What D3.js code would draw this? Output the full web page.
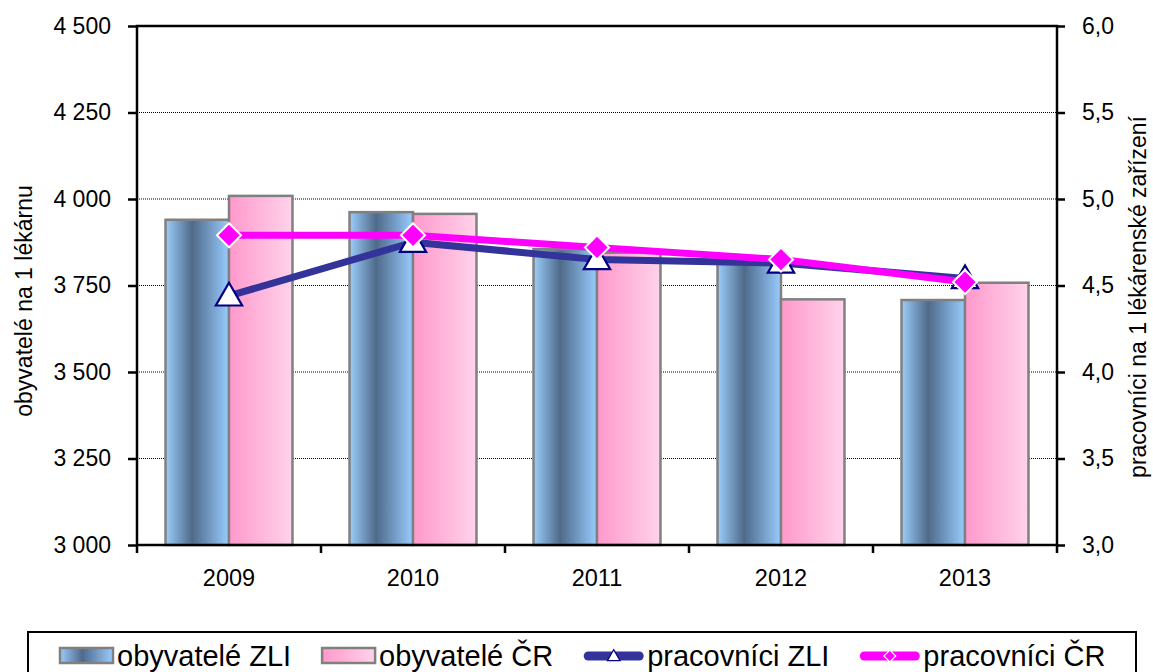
<!DOCTYPE html>
<html lang="cs">
<head>
<meta charset="UTF-8">
<title>Lékárny</title>
<script src="https://d3js.org/d3.v7.min.js"></script>
<style>
  body { margin: 0; background: #fff; }
  svg { display: block; font-family: "Liberation Sans", Arial, sans-serif; }
  .grid line { stroke: #000; stroke-width: 1; stroke-dasharray: 1,1; }
</style>
</head>
<body>
<svg id="chart" width="1153" height="672"></svg>
<script>
  // data
  const years = ['2009', '2010', '2011', '2012', '2013'];
  const obyvZLI = [3940, 3962, 3855, 3815, 3708];
  const obyvCR = [4009, 3957, 3845, 3710, 3758];
  const pracZLI = [4.44, 4.75, 4.65, 4.63, 4.54];
  const pracCR = [4.79, 4.79, 4.72, 4.65, 4.52];
  const leftTicks = [3000, 3250, 3500, 3750, 4000, 4250, 4500];
  const rightTicks = [3.0, 3.5, 4.0, 4.5, 5.0, 5.5, 6.0];

  const svg = d3.select('#chart');
  const x0 = 137, x1 = 1057, yTop = 26, yBot = 545;

  const x = d3.scaleBand().domain(years).range([x0, x1]).paddingInner(0.31).paddingOuter(0.155);
  const xs = d3.scaleBand().domain(['zli', 'cr']).range([0, x.bandwidth()]);
  const yL = d3.scaleLinear().domain([3000, 4500]).range([yBot, yTop]);
  const yR = d3.scaleLinear().domain([3, 6]).range([yBot, yTop]);

  // gradients
  const defs = svg.append('defs');
  const gBlue = defs.append('linearGradient').attr('id', 'gBlue');
  gBlue.append('stop').attr('offset', '0%').attr('stop-color', '#9ccdfa');
  gBlue.append('stop').attr('offset', '42%').attr('stop-color', '#4f6a8a');
  gBlue.append('stop').attr('offset', '100%').attr('stop-color', '#99ccff');
  const gPink = defs.append('linearGradient').attr('id', 'gPink');
  gPink.append('stop').attr('offset', '0%').attr('stop-color', '#ff99cc');
  gPink.append('stop').attr('offset', '100%').attr('stop-color', '#ffd3ea');

  // gridlines
  svg.append('g').attr('class', 'grid')
    .selectAll('line').data(leftTicks.slice(1, -1)).join('line')
    .attr('x1', x0).attr('x2', x1)
    .attr('y1', d => yL(d)).attr('y2', d => yL(d));

  // bars
  const groups = svg.append('g').selectAll('g').data(years).join('g')
    .attr('transform', d => `translate(${x(d)},0)`);
  groups.append('rect')
    .attr('x', xs('zli')).attr('width', xs.bandwidth())
    .attr('y', (d, i) => yL(obyvZLI[i])).attr('height', (d, i) => yBot - yL(obyvZLI[i]))
    .attr('fill', 'url(#gBlue)').attr('stroke', '#808080').attr('stroke-width', 2.5);
  groups.append('rect')
    .attr('x', xs('cr')).attr('width', xs.bandwidth())
    .attr('y', (d, i) => yL(obyvCR[i])).attr('height', (d, i) => yBot - yL(obyvCR[i]))
    .attr('fill', 'url(#gPink)').attr('stroke', '#808080').attr('stroke-width', 2.5);

  // axes
  const axisL = d3.axisLeft(yL).tickValues(leftTicks).tickSize(9).tickPadding(17)
    .tickFormat(d => d3.format(',')(d).replace(',', ' '));
  const axisR = d3.axisRight(yR).tickValues(rightTicks).tickSize(8).tickPadding(17)
    .tickFormat(d => d3.format('.1f')(d).replace('.', ','));
  const axisB = d3.axisBottom(x).tickSize(0).tickPadding(24);

  const gL = svg.append('g').attr('transform', `translate(${x0},0)`).call(axisL);
  const gR = svg.append('g').attr('transform', `translate(${x1},0)`).call(axisR);
  const gB = svg.append('g').attr('transform', `translate(0,${yBot})`).call(axisB);
  [gL, gR, gB].forEach(g => {
    g.selectAll('.domain').remove();
    g.selectAll('.tick line').attr('stroke', '#000').attr('stroke-width', 2.5);
    g.selectAll('text').attr('fill', '#000').style('font-size', '23px');
  });
  gB.selectAll('text').attr('dy', '0.71em').style('font-size', '23.5px');

  // category boundary ticks
  const bounds = years.map(d => x(d) - x.step() * 0.155).concat([x1]);
  svg.append('g').selectAll('line').data(bounds).join('line')
    .attr('x1', d => d).attr('x2', d => d).attr('y1', yBot).attr('y2', yBot + 8)
    .attr('stroke', '#000').attr('stroke-width', 2.5);

  // frame
  svg.append('rect').attr('x', x0).attr('y', yTop).attr('width', x1 - x0).attr('height', yBot - yTop)
    .attr('fill', 'none').attr('stroke', '#000').attr('stroke-width', 2.5);

  // lines
  const cx = d => x(d) + x.bandwidth() / 2;
  const lineZ = d3.line().x(d => cx(d)).y((d, i) => yR(pracZLI[i]));
  const lineC = d3.line().x(d => cx(d)).y((d, i) => yR(pracCR[i]));
  const tri = d3.symbol().type(d3.symbolTriangle).size(300);
  const dia = d3.symbol().type(d3.symbolSquare).size(290);

  svg.append('path').datum(years).attr('d', lineZ)
    .attr('fill', 'none').attr('stroke', '#333399').attr('stroke-width', 7).attr('stroke-linejoin', 'round');
  svg.append('g').selectAll('path').data(years).join('path')
    .attr('d', tri)
    .attr('transform', (d, i) => `translate(${cx(d)},${yR(pracZLI[i]) + 2})`)
    .attr('fill', '#fff').attr('stroke', '#000080').attr('stroke-width', 2.2);

  svg.append('path').datum(years).attr('d', lineC)
    .attr('fill', 'none').attr('stroke', '#ff00ff').attr('stroke-width', 7).attr('stroke-linejoin', 'round');
  svg.append('g').selectAll('path').data(years).join('path')
    .attr('d', dia)
    .attr('transform', (d, i) => `translate(${cx(d)},${yR(pracCR[i])}) rotate(45)`)
    .attr('fill', '#ff00ff').attr('stroke', '#fff').attr('stroke-width', 2);

  // axis titles
  svg.append('text').attr('transform', 'translate(32,301) rotate(-90)')
    .attr('text-anchor', 'middle').style('font-size', '23px').text('obyvatelé na 1 lékárnu');
  svg.append('text').attr('transform', 'translate(1146,297) rotate(-90)')
    .attr('text-anchor', 'middle').style('font-size', '23px').text('pracovníci na 1 lékárenské zařízení');

  // legend
  const legend = svg.append('g');
  legend.append('rect').attr('x', 28).attr('y', 632).attr('width', 1108).attr('height', 60)
    .attr('fill', '#fff').attr('stroke', '#000').attr('stroke-width', 2);
  const items = [
    { label: 'obyvatelé ZLI', kind: 'bar', fill: 'url(#gBlue)' },
    { label: 'obyvatelé ČR', kind: 'bar', fill: 'url(#gPink)' },
    { label: 'pracovníci ZLI', kind: 'line', color: '#333399', marker: 'tri' },
    { label: 'pracovníci ČR', kind: 'line', color: '#ff00ff', marker: 'dia' }
  ];
  let lx = 60;
  const ly = 656;
  items.forEach(it => {
    const g = legend.append('g');
    let w;
    if (it.kind === 'bar') {
      w = 53;
      g.append('rect').attr('x', lx).attr('y', ly - 8).attr('width', w).attr('height', 15)
        .attr('fill', it.fill).attr('stroke', '#808080').attr('stroke-width', 2.5);
    } else {
      w = 59;
      g.append('line').attr('x1', lx + 4).attr('x2', lx + w - 4).attr('y1', ly).attr('y2', ly)
        .attr('stroke', it.color).attr('stroke-width', 9).attr('stroke-linecap', 'round');
      if (it.marker === 'tri') {
        g.append('path').attr('d', d3.symbol().type(d3.symbolTriangle).size(70))
          .attr('transform', `translate(${lx + w / 2},${ly + 1})`)
          .attr('fill', '#fff').attr('stroke', '#000080').attr('stroke-width', 1.2);
      } else {
        g.append('path').attr('d', d3.symbol().type(d3.symbolSquare).size(70))
          .attr('transform', `translate(${lx + w / 2},${ly}) rotate(45)`)
          .attr('fill', '#ff00ff').attr('stroke', '#fff').attr('stroke-width', 1.2);
      }
    }
    const t = g.append('text').attr('x', lx + w + 4).attr('y', ly + 10)
      .style('font-size', '29px').text(it.label);
    lx += w + 4 + t.node().getComputedTextLength() + 31;
  });
</script>
</body>
</html>
